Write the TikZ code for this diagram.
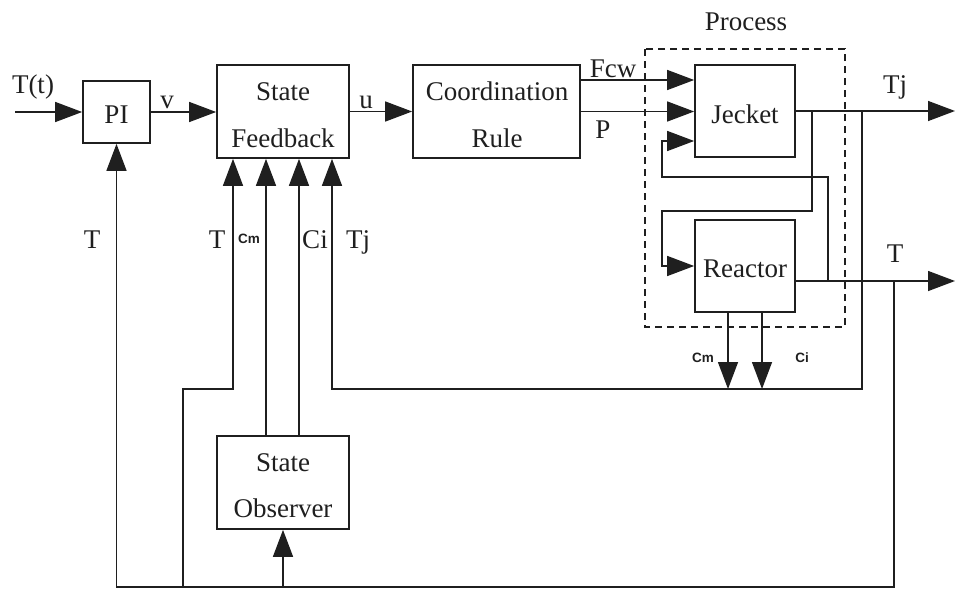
\documentclass[tikz,border=0pt]{standalone}
\usepackage{fontspec}
\setmainfont{Liberation Serif}
\newfontfamily\smallsans{Liberation Sans}
\usetikzlibrary{arrows.meta}

\begin{document}
\begin{tikzpicture}[x=1pt,y=-1pt,
  ink/.style={draw=black!88},
  box/.style={ink, line width=1.7pt, inner sep=0pt},
  lbl/.style={anchor=base, inner sep=0pt, text=black!88, font=\fontsize{27}{30}\selectfont},
  tiny/.style={anchor=base, inner sep=0pt, text=black!88, font=\smallsans\bfseries\fontsize{13.5}{15}\selectfont},
  wire/.style={ink, line width=1.4pt},
  arr/.style={wire, -{Triangle[length=27pt,width=20pt]}},
]
\useasboundingbox (0,0) rectangle (956,589);
\fill[white] (0,0) rectangle (956,589);

% blocks
\node[box, minimum width=67pt,  minimum height=62pt] (PI) at (116.5,112) {};
\node[box, minimum width=132pt, minimum height=93pt] (SF) at (283,111.5) {};
\node[box, minimum width=167pt, minimum height=93pt] (CR) at (496.5,111.5) {};
\node[box, minimum width=100pt, minimum height=92pt] (Jk) at (745,111) {};
\node[box, minimum width=100pt, minimum height=92pt] (Rc) at (745,266) {};
\node[box, minimum width=132pt, minimum height=93pt] (Obs) at (283,482.5) {};

% block texts
\node[lbl] (tPI)  at (116.5,123) {PI};
\node[lbl] (tSF1) at (283,100) {State};
\node[lbl] (tSF2) at (283,147) {Feedback};
\node[lbl] (tCR1) at (497,100) {Coordination};
\node[lbl] (tCR2) at (497,147) {Rule};
\node[lbl] (tJk)  at (745,123) {Jecket};
\node[lbl] (tRc)  at (745,277) {Reactor};
\node[lbl] (tOb1) at (283,471) {State};
\node[lbl] (tOb2) at (283,517) {Observer};

% process boundary
\draw[ink, line width=1.2pt, dash pattern=on 7pt off 5pt] (645,49) rectangle (845,327);
\node[lbl] (tProc) at (746,30) {Process};

% junction and end points
\coordinate (tin)  at (15,112);
\coordinate (tjo)  at (955,111);
\coordinate (to)   at (955,281);
\coordinate (jA)   at (812,111);
\coordinate (jB)   at (862,111);
\coordinate (jC)   at (828,281);
\coordinate (jD)   at (894,281);
\coordinate (rT)   at (795,281);

% forward path
\draw[arr] (tin) -- (PI.west);
\draw[arr] (PI.east) -- (PI.east -| SF.west);
\draw[arr] (SF.east) -- (SF.east -| CR.west);
\draw[arr] ([yshift=31.5pt]CR.east) -- ([yshift=31.5pt]CR.east -| Jk.west);
\draw[arr] (CR.east) -- (CR.east -| Jk.west);

% outputs
\draw[arr] (Jk.east) -- (tjo);
\draw[arr] (rT) -- (to);

% coupling inside the process
\draw[arr] (jA) -- (812,211) -- (662,211) -- (662,266) -- (Rc.west);
\draw[arr] (jC) -- (828,177) -- (662,177) -- (662,141) -- ([yshift=-30pt]Jk.west);

% concentrations leaving the reactor
\draw[arr] ([xshift=-17pt]Rc.south) -- (728,389);
\draw[arr] ([xshift=17pt]Rc.south) -- (762,389);

% Tj feedback
\draw[arr] (jB) -- (862,389) -- (332,389) -- ([xshift=49pt]SF.south);

% T feedback
\draw[arr] (jD) -- (894,587) -- (116.5,587) -- (PI.south);
\draw[arr] (183,587) -- (183,389) -- (233,389) -- ([xshift=-50pt]SF.south);
\draw[arr] (283,587) -- (Obs.south);

% observer estimates
\draw[arr] ([xshift=-17pt]Obs.north) -- ([xshift=-17pt]SF.south);
\draw[arr] ([xshift=16pt]Obs.north) -- ([xshift=16pt]SF.south);

% signal labels
\node[lbl] (lTt)  at (33,93)   {T(t)};
\node[lbl] (lv)   at (167,108) {v};
\node[lbl] (lu)   at (366,108) {u};
\node[lbl] (lFcw) at (613,77)  {Fcw};
\node[lbl] (lP)   at (603,138) {P};
\node[lbl] (lTjo) at (895,93)  {Tj};
\node[lbl] (lTo)  at (895,262) {T};
\node[lbl] (lTpi) at (92,248)  {T};
\node[lbl] (lTsf) at (217,248) {T};
\node[tiny] (lCm) at (249,243) {Cm};
\node[lbl] (lCi)  at (315,248) {Ci};
\node[lbl] (lTj)  at (358,248) {Tj};
\node[tiny] (lCmR) at (703,362) {Cm};
\node[tiny] (lCiR) at (802,362) {Ci};
\end{tikzpicture}
\end{document}
